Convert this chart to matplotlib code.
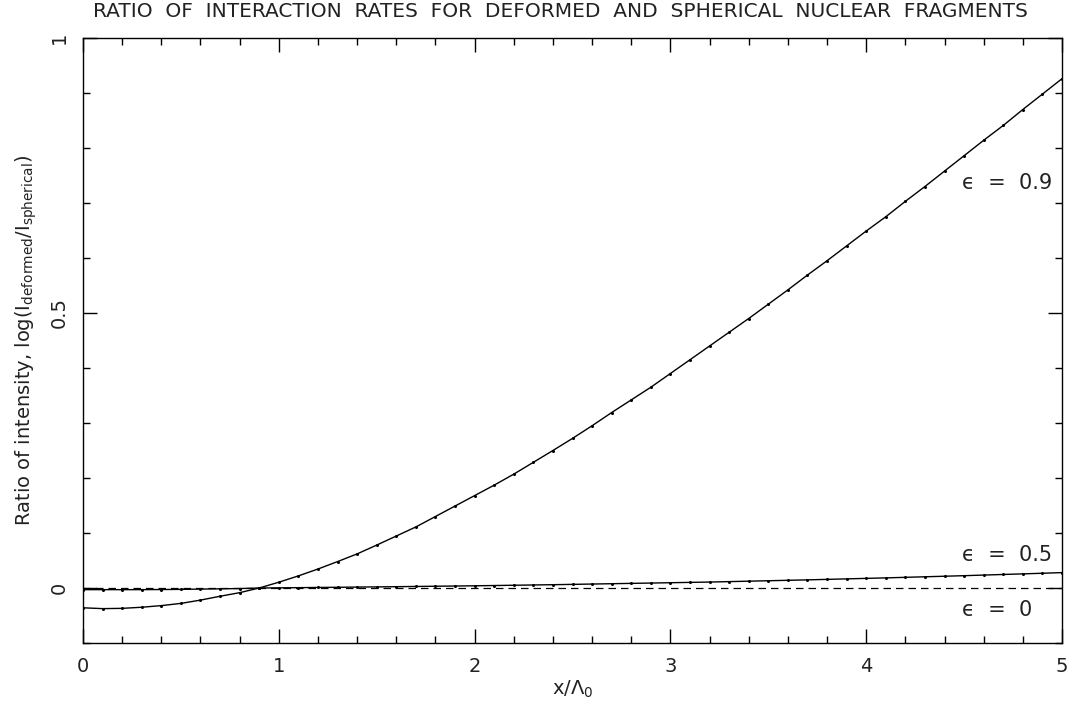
import numpy as np
import matplotlib
matplotlib.use("Agg")
import matplotlib.pyplot as plt
from matplotlib.ticker import MultipleLocator

# sample positions x / Lambda_0
x = np.round(np.arange(0, 5.01, 0.1), 1)

# log(I_deformed / I_spherical) for eps = 0.9
eps09 = [-0.036, -0.0375, -0.037, -0.035, -0.032, -0.028, -0.022, -0.015, -0.0085, 0.0,
         0.0105, 0.022, 0.0345, 0.048, 0.062, 0.078, 0.0945, 0.111, 0.13, 0.149,
         0.168, 0.187, 0.207, 0.2285, 0.25, 0.272, 0.295, 0.319, 0.342, 0.365,
         0.39, 0.415, 0.44, 0.465, 0.49, 0.516, 0.542, 0.569, 0.595, 0.622,
         0.649, 0.675, 0.703, 0.73, 0.758, 0.786, 0.814, 0.841, 0.87, 0.898,
         0.926]

# same for eps = 0.5
eps05 = [-0.003, -0.003, -0.003, -0.003, -0.0028, -0.0025, -0.002, -0.0015, -0.001, 0.0,
         0.0003, 0.0006, 0.001, 0.0013, 0.0017, 0.002, 0.0024, 0.0028, 0.0032, 0.0036,
         0.004, 0.0045, 0.005, 0.0055, 0.006, 0.0066, 0.0072, 0.0078, 0.0084, 0.009,
         0.0096, 0.0102, 0.0108, 0.0116, 0.0124, 0.0132, 0.014, 0.0148, 0.0157, 0.0166,
         0.0175, 0.0184, 0.0194, 0.0204, 0.0214, 0.0224, 0.0235, 0.0246, 0.0257, 0.0268,
         0.028]

# spherical reference (eps = 0)
eps00 = [0.0, 0.0]
x00 = [0.0, 5.0]

ink = "#222222"
plt.rcParams["font.family"] = ["DejaVu Sans"]

fig = plt.figure(figsize=(10.72, 7.02), dpi=100)
ax = fig.add_axes([83 / 1072, 1 - 643 / 702, (1062 - 83) / 1072, (643 - 38) / 702])

ax.plot(x, eps09, color="black", lw=1.0, marker="o", ms=1.2, mec="black")
ax.plot(x, eps05, color="black", lw=1.0, marker="o", ms=1.2, mec="black")
ax.plot(x00, eps00, color="black", lw=0.9, ls=(0, (6, 4)))

ax.set_xlim(0, 5)
ax.set_ylim(-0.1, 1.0)

ax.xaxis.set_major_locator(MultipleLocator(1))
ax.xaxis.set_minor_locator(MultipleLocator(0.2))
ax.yaxis.set_major_locator(MultipleLocator(0.5))
ax.yaxis.set_minor_locator(MultipleLocator(0.1))
ax.tick_params(which="both", direction="in", top=True, right=True, width=1, colors="black",
               labelcolor=ink, labelsize=14)
ax.tick_params(which="major", length=10, pad=10)
ax.tick_params(which="minor", length=5)
ax.set_xticks([0, 1, 2, 3, 4, 5], ["0", "1", "2", "3", "4", "5"])
ax.set_yticks([0, 0.5, 1], ["0", "0.5", "1"])
for lab in ax.get_yticklabels():
    lab.set_rotation(90)
    lab.set_va("center")
for s in ax.spines.values():
    s.set_linewidth(1.0)

ax.set_xlabel(r"x/$\Lambda_0$", fontsize=14, color=ink, labelpad=2)
ax.set_ylabel(r"Ratio of intensity, log(I$_{\rm deformed}$/I$_{\rm spherical}$)",
              fontsize=14, color=ink, labelpad=8)
fig.suptitle("RATIO  OF  INTERACTION  RATES  FOR  DEFORMED  AND  SPHERICAL  NUCLEAR  FRAGMENTS",
             x=0.523, y=0.997, fontsize=14.5, color=ink)

ax.text(4.49, 0.736, "ϵ  =  0.9", fontsize=15, color=ink, va="center")
ax.text(4.49, 0.06, "ϵ  =  0.5", fontsize=15, color=ink, va="center")
ax.text(4.49, -0.04, "ϵ  =  0", fontsize=15, color=ink, va="center")

fig.savefig("out.png", dpi=100)
